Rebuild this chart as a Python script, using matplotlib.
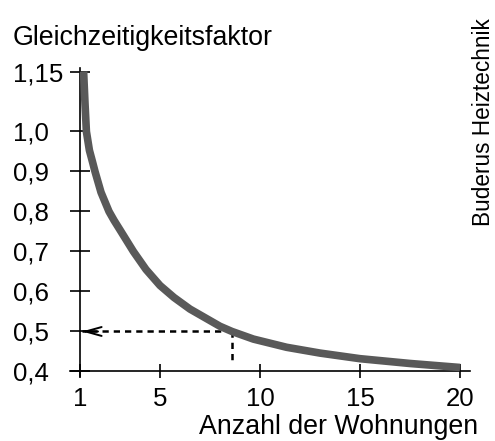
import matplotlib
matplotlib.use("Agg")
import matplotlib.pyplot as plt

# Gleichzeitigkeitsfaktor über Anzahl der Wohnungen
wohnungen = [1.18, 1.25, 1.32, 1.47, 1.62, 1.75, 2.05, 2.45, 2.7, 3.0, 3.67,
             4.3, 5.0, 5.7, 6.5, 8.0, 8.6, 9.67, 11.33, 13.0, 15.0, 17.5, 20.0]
faktor = [1.15, 1.07, 1.0, 0.953, 0.925, 0.9, 0.848, 0.8, 0.778, 0.754, 0.7,
          0.655, 0.615, 0.585, 0.556, 0.513, 0.5, 0.481, 0.4605, 0.446, 0.432,
          0.42, 0.41]

x_ticks = [1, 5, 10, 15, 20]
y_ticks = [0.4, 0.5, 0.6, 0.7, 0.8, 0.9, 1.0, 1.15]
y_labels = ["0,4", "0,5", "0,6", "0,7", "0,8", "0,9", "1,0", "1,15"]

# Ablesebeispiel
ablese_x = 8.6
ablese_y = 0.5
ablese_y_unten = 0.42

plt.rcParams['font.family'] = ['Liberation Sans', 'DejaVu Sans']

fig = plt.figure(figsize=(4.95, 4.41), dpi=100)
ax = fig.add_axes([70 / 495, 0.1463, 400 / 495, 0.6995])

ax.plot(wohnungen, faktor, color='#595959', linewidth=5.5,
        solid_capstyle='butt', solid_joinstyle='round', zorder=3)

# gestrichelte Hilfslinien
ax.plot([ablese_x, 1.1], [ablese_y, ablese_y], color='black', linewidth=1.8,
        dashes=(2.5, 2), zorder=2)
ax.plot([ablese_x, ablese_x], [ablese_y, ablese_y_unten], color='black',
        linewidth=1.8, dashes=(2.5, 2), zorder=2)
ax.annotate('', xy=(1.1, ablese_y), xytext=(1.9, ablese_y),
            arrowprops=dict(arrowstyle='->,head_length=1.15,head_width=0.32',
                            color='black', linewidth=1.4,
                            shrinkA=0, shrinkB=0))

ax.set_xlim(0.5, 20.5)
ax.set_ylim(0.3875, 1.15875)

ax.spines['top'].set_visible(False)
ax.spines['right'].set_visible(False)
ax.spines['left'].set_position(('data', 1))
ax.spines['bottom'].set_position(('data', 0.4))
ax.spines['left'].set_linewidth(1.2)
ax.spines['bottom'].set_linewidth(1.2)

ax.set_xticks(x_ticks)
ax.set_xticklabels([str(v) for v in x_ticks])
ax.set_yticks(y_ticks)
ax.set_yticklabels(y_labels)

ax.tick_params(axis='x', direction='inout', length=10, width=1.2,
               labelsize=18.6, pad=6)
ax.tick_params(axis='y', direction='inout', length=14.4, width=1.2,
               labelsize=18.6, pad=41)
for lbl in ax.get_yticklabels():
    lbl.set_horizontalalignment('left')

fig.text(13 / 495, 0.898, 'Gleichzeitigkeitsfaktor', fontsize=19.3,
         ha='left', va='baseline')
fig.text(478 / 495, 0.016, 'Anzahl der Wohnungen', fontsize=19.3,
         ha='right', va='baseline')
fig.text(0.977, 0.723, 'Buderus Heiztechnik', fontsize=16.3, rotation=90,
         ha='center', va='center')

fig.savefig('out.png', dpi=100)
